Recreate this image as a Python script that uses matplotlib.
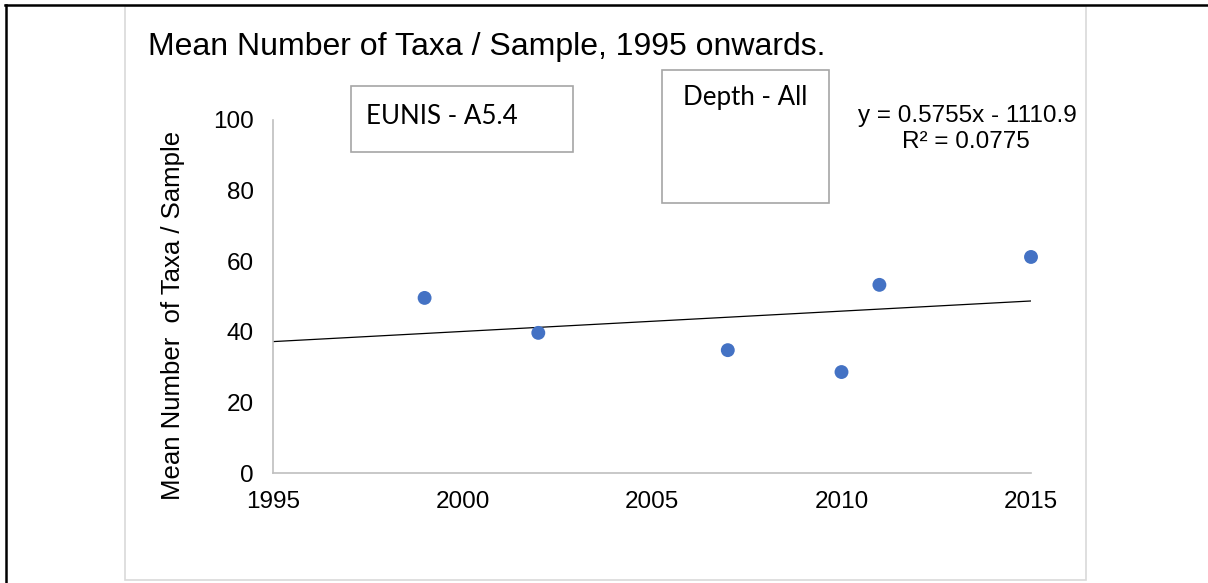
import matplotlib
matplotlib.use("Agg")
import matplotlib.pyplot as plt
from matplotlib.patches import Rectangle
from matplotlib.lines import Line2D
import numpy as np

# Data
years = [1999, 2002, 2007, 2010, 2011, 2015]
mean_taxa = [49.6, 39.7, 34.8, 28.6, 53.3, 61.2]
trend_slope = 0.5755
trend_intercept = -1110.9
r_squared = 0.0775
x_ticks = [1995, 2000, 2005, 2010, 2015]
y_ticks = [0, 20, 40, 60, 80, 100]

W, H = 1208, 583
fig = plt.figure(figsize=(W / 100, H / 100), dpi=100)
fam = ['Liberation Sans', 'DejaVu Sans']

def fx(px):
    return px / W

def fy(py):
    return 1 - py / H

# outer black border lines (top and left)
fig.add_artist(Line2D([fx(5), 1.0], [fy(5), fy(5)], color='black', lw=1.8))
fig.add_artist(Line2D([fx(6), fx(6)], [fy(5), 0.0], color='black', lw=1.8))
# chart area border
fig.add_artist(Rectangle((fx(125), fy(580)), fx(1086) - fx(125), fy(6) - fy(580),
                         fill=False, edgecolor='#D9D9D9', lw=1.2))

ax = fig.add_axes([fx(273), fy(473), fx(1031) - fx(273), fy(120) - fy(473)])
ax.scatter(years, mean_taxa, s=100, color='#4472C4', zorder=3, edgecolors='none',
           clip_on=False)
xt = np.array([x_ticks[0], x_ticks[-1]])
ax.plot(xt, trend_slope * xt + trend_intercept, color='black', lw=0.9)
ax.set_xlim(x_ticks[0], x_ticks[-1])
ax.set_ylim(y_ticks[0], y_ticks[-1])
ax.set_xticks(x_ticks)
ax.set_yticks(y_ticks)
ax.tick_params(length=0, labelsize=17.5, colors='black', pad=13)
ax.tick_params(axis='y', pad=14)
for lab in ax.get_xticklabels() + ax.get_yticklabels():
    lab.set_fontfamily(fam)
for s in ['top', 'right']:
    ax.spines[s].set_visible(False)
for s in ['left', 'bottom']:
    ax.spines[s].set_color('#BFBFBF')
    ax.spines[s].set_linewidth(1.2)

fig.text(fx(173), fy(315), 'Mean Number  of Taxa / Sample', fontsize=18.5, family=fam,
         rotation=90, va='center', ha='center')

fig.text(fx(148), fy(47), 'Mean Number of Taxa / Sample, 1995 onwards.', fontsize=23,
         family=fam, va='center', ha='left')

# text boxes
fig.add_artist(Rectangle((fx(351), fy(152)), fx(573) - fx(351), fy(86) - fy(152),
                         fill=False, edgecolor='#A6A6A6', lw=1.2))
fig.text(fx(366), fy(116), 'EUNIS - A5.4', fontsize=18.6, family=['Lato', 'DejaVu Sans'],
         va='center', ha='left')
fig.add_artist(Rectangle((fx(662), fy(203)), fx(829) - fx(662), fy(70) - fy(203),
                         fill=False, edgecolor='#A6A6A6', lw=1.2))
fig.text(fx(745), fy(97), 'Depth - All', fontsize=18.6, family=['Lato', 'DejaVu Sans'],
         va='center', ha='center')

fig.text(fx(967), fy(116), f'y = {trend_slope}x - {abs(trend_intercept)}', fontsize=17.5,
         family=fam, va='center', ha='center')
fig.text(fx(966), fy(142), f'R² = {r_squared}', fontsize=17.5,
         family=fam, va='center', ha='center')

fig.savefig('out.png', dpi=100)
